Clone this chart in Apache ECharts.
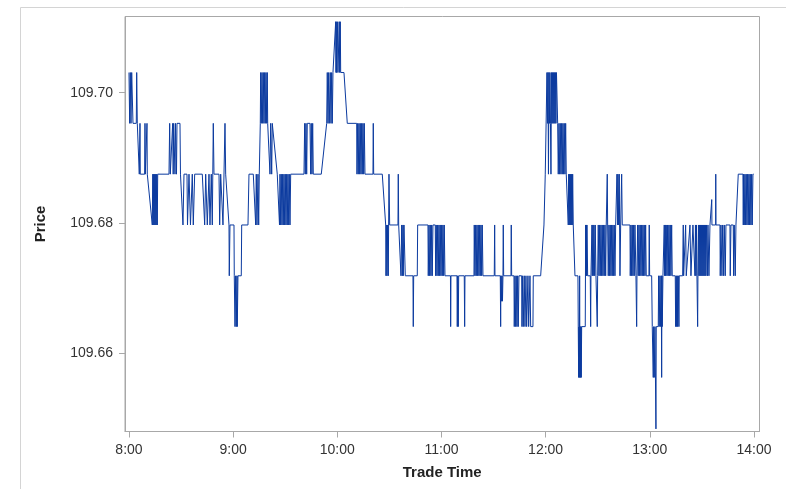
<!DOCTYPE html>
<html>
<head>
<meta charset="utf-8">
<script src="https://cdn.jsdelivr.net/npm/echarts@6/dist/echarts.min.js"></script>
<style>
html,body{margin:0;padding:0;background:#fff;}
#chart{width:786px;height:489px;}
</style>
</head>
<body>
<div id="chart"></div>
<script>
// Trade time in minutes since midnight, price in JPY
const timeA = [
480.00,480.40,480.75,481.15,481.56,482.02,482.30,484.20,484.44,484.78,
485.76,485.93,486.34,486.51,489.04,489.22,489.39,490.20,490.37,490.54,
491.52,493.42,493.71,493.94,494.23,494.52,494.80,495.09,495.38,495.67,
495.96,496.30,496.53,503.04,503.44,503.79,504.94,505.17,505.46,505.75,
506.21,506.50,506.78,507.07,507.36,507.65,509.38,509.66,510.70,511.10,
511.68,513.41,513.70,514.56,515.42,516.46,517.04,517.84,522.22,523.60,
524.18,525.10,526.08,526.66,527.40,527.98,528.56,528.96,531.84,532.24,
532.82,534.14,535.30,535.70,537.60,537.77,538.18,540.48,540.65,541.06,
541.46,541.80,542.21,542.38,542.78,544.68,544.92,548.54,549.12,551.60,
552.98,553.32,553.73,554.30,554.71,555.05,555.63,555.86,556.20,556.61,
557.01,557.36,557.76,558.16,558.51,558.91,559.32,559.66,559.89,560.64,
561.22,561.62,562.20,562.54,563.52,565.42,566.40,566.69,566.98,567.38,
567.72,568.13,568.53,568.88,569.28];
const priceA = [
109.7031,109.6953,109.7031,109.6953,109.7031,109.7031,109.6953,109.6953,109.7031,109.6953,
109.6953,109.6875,109.6953,109.6875,109.6875,109.6953,109.6875,109.6875,109.6953,109.6875,
109.6875,109.6797,109.6875,109.6797,109.6875,109.6797,109.6875,109.6797,109.6875,109.6797,
109.6875,109.6797,109.6875,109.6875,109.6953,109.6875,109.6875,109.6953,109.6875,109.6953,
109.6953,109.6875,109.6953,109.6953,109.6875,109.6953,109.6953,109.6875,109.6875,109.6797,
109.6875,109.6875,109.6797,109.6875,109.6797,109.6875,109.6797,109.6875,109.6875,109.6797,
109.6875,109.6797,109.6875,109.6797,109.6875,109.6797,109.6953,109.6875,109.6875,109.6797,
109.6875,109.6797,109.6953,109.6875,109.6797,109.6719,109.6797,109.6797,109.6719,109.6641,
109.6719,109.6641,109.6719,109.6641,109.6719,109.6719,109.6797,109.6797,109.6875,109.6875,
109.6797,109.6875,109.6797,109.6875,109.6797,109.6875,109.6953,109.7031,109.6953,109.7031,
109.6953,109.7031,109.6953,109.7031,109.6953,109.7031,109.6953,109.7031,109.6953,109.6953,
109.6875,109.6953,109.6875,109.6953,109.6953,109.6875,109.6875,109.6797,109.6875,109.6797,
109.6875,109.6797,109.6875,109.6797,109.6875];

const timeB = [
569.68,570.03,570.43,570.84,571.18,571.58,571.99,572.33,572.74,573.14,
580.80,581.20,581.55,581.95,582.36,582.70,584.26,584.66,585.00,585.41,
585.81,586.16,590.76,593.88,594.22,594.62,595.03,595.37,595.95,596.35,
596.76,597.10,597.50,599.06,599.23,599.40,599.64,600.21,600.38,601.13,
601.36,601.71,601.94,603.84,605.74,611.16,611.33,611.73,612.08,612.48,
612.88,613.23,613.63,614.04,614.38,614.78,615.19,615.53,615.94,620.54,
620.72,620.95,625.90,627.86,628.03,628.44,628.61,629.01,629.36,629.76,
630.16,634.94,635.12,635.35,636.50,636.67,637.08,637.42,637.82,638.00,
638.40,639.15,643.58,643.76,643.99,646.06,646.29,652.22,652.40,652.80,
653.20,653.55,653.95,654.36,654.70,655.10,656.43,656.66,657.00,657.41,
657.81,658.16,658.56,658.96,659.31,659.71,660.12,660.46,660.86,661.27,
661.61,662.02];
const priceB = [
109.6797,109.6875,109.6797,109.6875,109.6797,109.6875,109.6797,109.6875,109.6797,109.6875,
109.6875,109.6953,109.6875,109.6953,109.6875,109.6953,109.6953,109.6875,109.6953,109.6875,
109.6953,109.6875,109.6875,109.6953,109.7031,109.6953,109.7031,109.6953,109.7031,109.6953,
109.7031,109.6953,109.7031,109.7109,109.7031,109.7109,109.7031,109.7109,109.7031,109.7109,
109.7031,109.7109,109.7031,109.7031,109.6953,109.6953,109.6875,109.6953,109.6875,109.6953,
109.6875,109.6953,109.6875,109.6953,109.6875,109.6953,109.6875,109.6953,109.6875,109.6875,
109.6953,109.6875,109.6875,109.6797,109.6719,109.6797,109.6719,109.6797,109.6719,109.6875,
109.6797,109.6797,109.6875,109.6797,109.6797,109.6719,109.6797,109.6719,109.6797,109.6719,
109.6797,109.6719,109.6719,109.6641,109.6719,109.6719,109.6797,109.6797,109.6719,109.6797,
109.6719,109.6797,109.6719,109.6797,109.6719,109.6797,109.6797,109.6719,109.6797,109.6719,
109.6797,109.6719,109.6797,109.6719,109.6797,109.6719,109.6797,109.6719,109.6797,109.6719,
109.6797,109.6719];

const timeC = [
665.18,665.30,665.47,668.93,669.10,669.33,669.68,669.91,673.13,673.36,
673.54,678.72,678.89,679.30,679.70,680.04,680.45,680.85,681.20,681.60,
682.00,682.35,682.75,683.16,683.50,683.90,690.41,690.64,690.82,693.87,
694.10,694.27,694.56,694.85,695.14,695.42,695.60,695.83,700.03,700.20,
700.44,701.76,701.93,702.34,702.74,703.08,703.49,703.89,704.24,704.64,
706.20,706.37,706.77,707.12,707.69,708.10,708.67,709.08,709.82,710.23,
710.98,711.38,712.70,712.88,717.14,719.04,719.62,719.79,720.60,720.77,
721.06,721.34,721.63,721.92,722.21,722.50,722.78,723.07,723.36,723.65,
723.94,724.22,724.51,724.80,725.09,725.38,725.66,725.95,726.24,726.70,
726.93,727.28,727.68,728.08,728.43,728.83,729.24,729.58,729.98,730.39,
730.73,731.14,731.54,731.88,732.86,733.04,733.27,733.61,733.84,734.19,
734.42,734.76,734.99,735.34,735.57,735.92,736.72,736.90,738.62,738.80,
739.03,739.20,739.37,739.60,739.78,739.95,740.18,740.35,740.52,740.76,
742.83,743.06,743.23,743.40,743.64,743.81,744.21,745.71,745.94,746.11,
746.69,746.86,747.26,747.44,747.84,748.24,748.59,748.99,749.57,749.74,
749.97,750.32,750.72,751.12,751.47];
const priceC = [
109.6719,109.6641,109.6719,109.6719,109.6641,109.6719,109.6641,109.6719,109.6719,109.6641,
109.6719,109.6719,109.6797,109.6719,109.6797,109.6719,109.6797,109.6719,109.6797,109.6719,
109.6797,109.6719,109.6797,109.6719,109.6797,109.6719,109.6719,109.6797,109.6719,109.6719,
109.6641,109.6719,109.6680,109.6719,109.6680,109.6719,109.6797,109.6719,109.6719,109.6797,
109.6719,109.6719,109.6641,109.6719,109.6641,109.6719,109.6641,109.6719,109.6641,109.6719,
109.6719,109.6641,109.6719,109.6641,109.6719,109.6641,109.6719,109.6641,109.6719,109.6641,
109.6719,109.6641,109.6641,109.6719,109.6719,109.6797,109.6797,109.6875,109.6875,109.7031,
109.6953,109.7031,109.6875,109.7031,109.6953,109.7031,109.6953,109.6875,109.7031,109.6953,
109.7031,109.6953,109.7031,109.6953,109.7031,109.6953,109.7031,109.6953,109.7031,109.7031,
109.6953,109.6875,109.6953,109.6875,109.6953,109.6875,109.6953,109.6875,109.6953,109.6875,
109.6953,109.6875,109.6953,109.6875,109.6875,109.6797,109.6875,109.6797,109.6875,109.6797,
109.6875,109.6797,109.6875,109.6797,109.6875,109.6797,109.6797,109.6719,109.6719,109.6641,
109.6563,109.6641,109.6563,109.6719,109.6563,109.6641,109.6563,109.6641,109.6563,109.6641,
109.6641,109.6797,109.6719,109.6797,109.6719,109.6797,109.6719,109.6719,109.6641,109.6719,
109.6797,109.6719,109.6797,109.6719,109.6797,109.6719,109.6797,109.6719,109.6719,109.6641,
109.6719,109.6797,109.6719,109.6797,109.6719];

const timeD = [
751.87,752.28,752.62,753.02,753.43,753.77,754.18,754.58,754.92,755.33,
755.50,755.73,756.08,756.48,756.88,757.23,757.63,758.04,758.38,758.78,
759.19,759.53,759.94,760.34,760.92,761.09,761.49,761.66,762.07,762.41,
762.82,763.22,763.80,764.14,768.58,768.75,769.15,769.56,769.90,770.30,
770.71,771.05,771.46,772.03,772.44,772.61,773.01,773.36,773.76,774.16,
774.51,774.91,775.32,775.66,776.06,776.47,776.81,777.22,777.62,777.96,
779.52,779.69,779.92,781.08,781.42,782.00,782.23,782.57,782.98,783.55,
783.72,784.88,785.11,785.45,785.86,786.26,786.60,786.84,787.01,787.18,
787.58,788.16,788.33,788.56,788.91,789.14,789.48,789.89,790.29,790.64,
791.04,791.44,791.79,792.19,792.60,792.94,794.67,794.90,795.24,795.48,
795.82,796.05,796.40,796.80,796.97,798.93,799.28,799.51,800.66,801.00,
803.14,803.71,804.86,806.02,806.30,806.59,806.88,807.17,807.57,807.74,
808.03,808.32,808.61,808.90,809.18,809.47,809.76,810.05,810.34,810.62,
810.91,811.20,811.49,811.78,812.06,812.35,812.64,813.22,813.50,814.08,
814.66,815.64,815.69,815.81,817.94,818.00,818.11,820.42,820.59,821.00,
821.57,821.97,822.55,822.89,823.47,823.87,826.18,826.35,826.75,828.08,
828.31,828.65,829.23,829.63,830.78,830.96,833.66,833.84,834.07,834.41,
834.82,835.22,835.56,835.97,836.37,836.72,837.12,837.52,837.87,838.27,
838.68,839.02,839.42,839.83];
const priceD = [
109.6797,109.6719,109.6797,109.6719,109.6797,109.6719,109.6797,109.6719,109.6797,109.6797,
109.6875,109.6797,109.6719,109.6797,109.6719,109.6797,109.6719,109.6797,109.6719,109.6797,
109.6719,109.6797,109.6719,109.6797,109.6797,109.6875,109.6797,109.6875,109.6797,109.6875,
109.6719,109.6797,109.6875,109.6797,109.6797,109.6719,109.6797,109.6719,109.6797,109.6719,
109.6797,109.6719,109.6797,109.6719,109.6641,109.6719,109.6797,109.6719,109.6797,109.6719,
109.6797,109.6719,109.6797,109.6719,109.6797,109.6719,109.6797,109.6719,109.6797,109.6719,
109.6719,109.6797,109.6719,109.6719,109.6641,109.6563,109.6641,109.6563,109.6641,109.6484,
109.6641,109.6641,109.6719,109.6641,109.6719,109.6641,109.6719,109.6563,109.6719,109.6641,
109.6719,109.6719,109.6797,109.6719,109.6797,109.6719,109.6797,109.6719,109.6797,109.6719,
109.6797,109.6719,109.6797,109.6719,109.6797,109.6719,109.6719,109.6641,109.6719,109.6641,
109.6719,109.6641,109.6719,109.6641,109.6719,109.6719,109.6797,109.6719,109.6797,109.6719,
109.6797,109.6719,109.6797,109.6719,109.6797,109.6719,109.6797,109.6719,109.6641,109.6719,
109.6797,109.6719,109.6797,109.6719,109.6797,109.6719,109.6797,109.6719,109.6797,109.6719,
109.6797,109.6719,109.6797,109.6719,109.6797,109.6719,109.6797,109.6719,109.6797,109.6719,
109.6797,109.6797,109.6836,109.6797,109.6797,109.6875,109.6797,109.6797,109.6719,109.6797,
109.6719,109.6797,109.6719,109.6797,109.6719,109.6797,109.6797,109.6719,109.6797,109.6797,
109.6719,109.6797,109.6719,109.6797,109.6797,109.6875,109.6875,109.6797,109.6875,109.6797,
109.6875,109.6797,109.6875,109.6797,109.6875,109.6797,109.6875,109.6797,109.6875,109.6797,
109.6875,109.6797,109.6875,109.6875];

const hourTicks = [480, 540, 600, 660, 720, 780, 840];
const priceTicks = [109.66, 109.68, 109.70];

const tradeTime = timeA.concat(timeB, timeC, timeD);
const price = priceA.concat(priceB, priceC, priceD);
const n = Math.min(tradeTime.length, price.length);
const seriesData = [];
for (let i = 0; i < n; i++) seriesData.push([tradeTime[i], price[i]]);

const FONT = "'Liberation Sans', Arial, sans-serif";
const GRAY = '#a8a8a8';
const chart = echarts.init(document.getElementById('chart'), null, {renderer: 'canvas'});
chart.setOption({
  animation: false,
  backgroundColor: '#ffffff',
  graphic: [{
    type: 'rect', left: 18, top: 5, silent: true,
    shape: {width: 800, height: 520},
    style: {fill: 'none', stroke: '#d4d4d4', lineWidth: 1}
  }],
  grid: {left: 125, right: 26.5, top: 16.5, bottom: 57.5, show: true,
         borderColor: GRAY, borderWidth: 1, backgroundColor: 'transparent'},
  xAxis: {
    type: 'value', min: 477.7, max: 843.2,
    name: 'Trade Time', nameLocation: 'middle', nameGap: 34,
    nameTextStyle: {fontFamily: FONT, fontWeight: 'bold', fontSize: 15, color: '#222'},
    axisLine: {show: true, lineStyle: {color: GRAY}},
    axisTick: {show: true, length: 6, lineStyle: {color: GRAY}, customValues: hourTicks},
    axisLabel: {fontFamily: FONT, fontSize: 14, color: '#333', margin: 12,
      customValues: hourTicks,
      formatter: v => Math.floor(v / 60) + ':' + String(Math.round(v % 60)).padStart(2, '0')},
    splitLine: {show: false}
  },
  yAxis: {
    type: 'value', min: 109.648, max: 109.7117,
    name: 'Price', nameLocation: 'middle', nameGap: 77, nameRotate: 90,
    nameTextStyle: {fontFamily: FONT, fontWeight: 'bold', fontSize: 15, color: '#222'},
    axisLine: {show: true, lineStyle: {color: GRAY}},
    axisTick: {show: true, length: 6, lineStyle: {color: GRAY}, customValues: priceTicks},
    axisLabel: {fontFamily: FONT, fontSize: 14, color: '#333', margin: 12,
      customValues: priceTicks, formatter: v => v.toFixed(2)},
    splitLine: {show: false}
  },
  series: [{
    type: 'line', data: seriesData, showSymbol: false, symbol: 'none',
    lineStyle: {color: '#0b3a9f', width: 1},
    clip: true
  }]
});
</script>
</body>
</html>
